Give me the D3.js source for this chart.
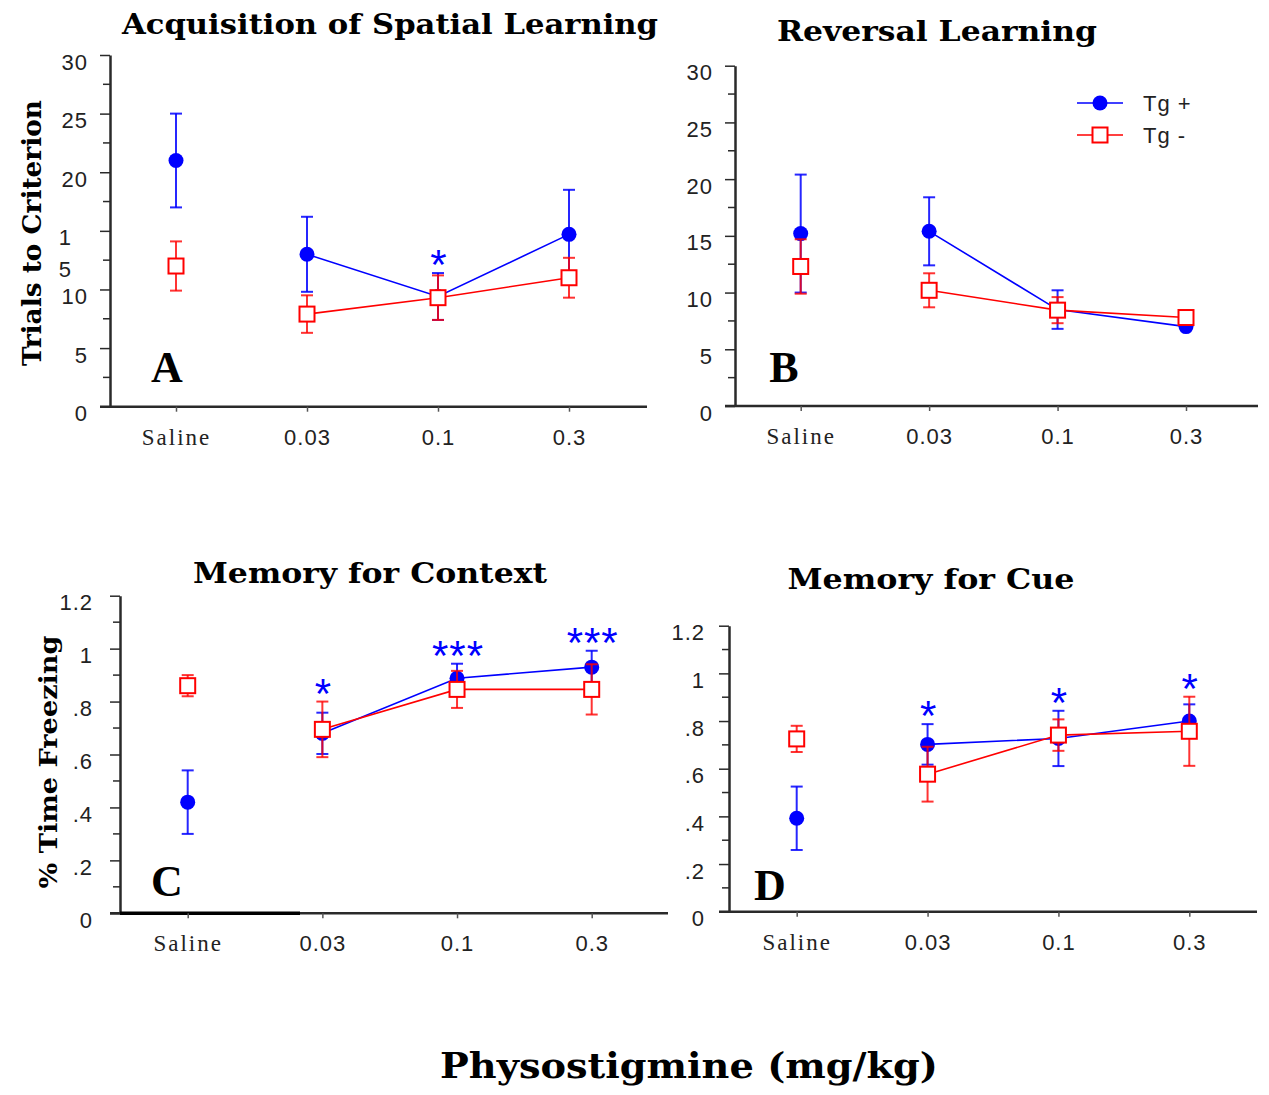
<!DOCTYPE html>
<html>
<head>
<meta charset="utf-8">
<script src="https://cdn.jsdelivr.net/npm/d3@7"></script>
<style>
  html, body { margin: 0; padding: 0; background: #fff; }
  svg { display: block; }
</style>
</head>
<body>
<svg id="chart" width="1269" height="1095"></svg>
<script>
// ---- data -------------------------------------------------------------
const categories = ["Saline", "0.03", "0.1", "0.3"];
const groups = ["Tg +", "Tg -"];

// A: acquisition of spatial learning (trials to criterion)
const acqTgPos    = [21.0, 13.0, 9.4, 14.7];
const acqTgPosErr = [4.0, 3.2, 2.0, 3.8];
const acqTgNeg    = [12.0, 7.9, 9.3, 11.0];
const acqTgNegErr = [2.1, 1.6, 1.9, 1.7];
const acqStars    = ["", "", "*", ""];

// B: reversal learning (trials to criterion)
const revTgPos    = [15.2, 15.4, 8.5, 7.0];
const revTgPosErr = [5.2, 3.0, 1.7, 0.3];
const revTgNeg    = [12.3, 10.2, 8.45, 7.8];
const revTgNegErr = [2.4, 1.5, 1.15, 0.3];
const revStars    = ["", "", "", ""];

// C: memory for context (% time freezing)
const ctxTgPos    = [0.42, 0.68, 0.888, 0.93];
const ctxTgPosErr = [0.12, 0.078, 0.055, 0.062];
const ctxTgNeg    = [0.86, 0.695, 0.846, 0.846];
const ctxTgNegErr = [0.04, 0.105, 0.07, 0.095];
const ctxStars    = ["", "*", "***", "***"];

// D: memory for cue (% time freezing)
const cueTgPos    = [0.392, 0.702, 0.727, 0.80];
const cueTgPosErr = [0.133, 0.085, 0.116, 0.07];
const cueTgNeg    = [0.725, 0.577, 0.741, 0.757];
const cueTgNegErr = [0.055, 0.115, 0.066, 0.145];
const cueStars    = ["", "*", "*", "*"];

// axis ticks
const trialTicks      = [0, 5, 10, 15, 20, 25, 30];
const trialTickLabels = ["0", "5", "10", "15", "20", "25", "30"];
const trialMinor      = [2.5, 7.5, 12.5, 17.5, 22.5, 27.5];
const freezeTicks      = [0, 0.2, 0.4, 0.6, 0.8, 1.0, 1.2];
const freezeTickLabels = ["0", ".2", ".4", ".6", ".8", "1", "1.2"];
const freezeMinor      = [0.1, 0.3, 0.5, 0.7, 0.9, 1.1];

const xTitle = "Physostigmine (mg/kg)";

// ---- layout -----------------------------------------------------------
const BLUE = "#0000ff", RED = "#ff0000", AXIS = "#2a2a2a";
const SERIF = "'Liberation Serif', 'Times New Roman', serif";
const HEAD = "'DejaVu Serif', 'Liberation Serif', serif";
const SANS = "'Liberation Sans', Arial, sans-serif";

const panels = [
  { letter: "A", title: "Acquisition of Spatial Learning", titleX: 390, titleY: 34, titleW: 536,
    axisX: 110, axisEnd: 647, catRange: [176, 569], yRange: [406.7, 55], domain: [0, 30],
    ticks: trialTicks, tickLabels: trialTickLabels, minor: trialMinor, labelGap: 22, splitFifteen: true,
    letterX: 167, letterY: 382,
    pos: acqTgPos, posErr: acqTgPosErr, neg: acqTgNeg, negErr: acqTgNegErr, stars: acqStars },
  { letter: "B", title: "Reversal Learning", titleX: 937, titleY: 41, titleW: 320,
    axisX: 735, axisEnd: 1258, catRange: [800.7, 1186], yRange: [406, 65.7], domain: [0, 30],
    ticks: trialTicks, tickLabels: trialTickLabels, minor: trialMinor, labelGap: 22,
    letterX: 784, letterY: 382, legend: true,
    pos: revTgPos, posErr: revTgPosErr, neg: revTgNeg, negErr: revTgNegErr, stars: revStars },
  { letter: "C", title: "Memory for Context", titleX: 370, titleY: 583, titleW: 354,
    axisX: 120, axisEnd: 668, catRange: [187.7, 591.7], yRange: [913.3, 595.7], domain: [0, 1.2],
    ticks: freezeTicks, tickLabels: freezeTickLabels, minor: freezeMinor, labelGap: 27, heavyBase: 300,
    letterX: 167, letterY: 896,
    pos: ctxTgPos, posErr: ctxTgPosErr, neg: ctxTgNeg, negErr: ctxTgNegErr, stars: ctxStars },
  { letter: "D", title: "Memory for Cue", titleX: 931, titleY: 589, titleW: 287,
    axisX: 729, axisEnd: 1257, catRange: [796.7, 1189.3], yRange: [911.7, 625.7], domain: [0, 1.2],
    ticks: freezeTicks, tickLabels: freezeTickLabels, minor: freezeMinor, labelGap: 24,
    letterX: 770, letterY: 900,
    pos: cueTgPos, posErr: cueTgPosErr, neg: cueTgNeg, negErr: cueTgNegErr, stars: cueStars }
];

const svg = d3.select("#chart");

function drawCircle(g, x, y) {
  g.append("circle").attr("cx", x).attr("cy", y).attr("r", 7.5).attr("fill", BLUE);
}
function drawSquare(g, x, y) {
  g.append("rect").attr("x", x - 7.5).attr("y", y - 7.5).attr("width", 15).attr("height", 15)
    .attr("fill", "#fff").attr("stroke", RED).attr("stroke-width", 2);
}

panels.forEach(p => {
  const g = svg.append("g");
  const x = d3.scalePoint().domain(categories).range(p.catRange);
  const y = d3.scaleLinear().domain(p.domain).range(p.yRange);

  // title
  g.append("text").attr("x", p.titleX).attr("y", p.titleY)
    .attr("text-anchor", "middle").attr("font-family", HEAD).attr("font-weight", "bold")
    .attr("font-size", 28).attr("textLength", p.titleW).attr("lengthAdjust", "spacingAndGlyphs")
    .text(p.title);

  // y axis with major ticks
  const yAxis = d3.axisLeft(y).tickValues(p.ticks).tickSize(10).tickSizeOuter(0)
    .tickPadding(p.labelGap - 10)
    .tickFormat((d, i) => p.tickLabels[i]);
  const ya = g.append("g").attr("transform", `translate(${p.axisX},0)`).call(yAxis);
  ya.select(".domain").attr("stroke", AXIS).attr("stroke-width", 2.5);
  ya.selectAll(".tick line").attr("stroke", AXIS).attr("stroke-width", 1.5);
  ya.selectAll(".tick text").attr("font-family", SANS).attr("font-size", 22)
    .attr("letter-spacing", "1px").attr("fill", "#222").attr("transform", "translate(0,7)");
  if (p.splitFifteen) {
    // the "15" label is printed as a stacked 1 over 5
    ya.selectAll(".tick text").filter(d => d === 15).each(function () {
      const t = d3.select(this).text(null);
      t.append("tspan").attr("x", -38).attr("dy", "0.32em").text("1");
      t.append("tspan").attr("x", -38).attr("dy", "1.45em").text("5");
    });
  }
  // minor ticks
  g.append("g").selectAll("line").data(p.minor).join("line")
    .attr("x1", p.axisX - 7).attr("x2", p.axisX)
    .attr("y1", d => y(d)).attr("y2", d => y(d))
    .attr("stroke", AXIS).attr("stroke-width", 1.5);

  // x axis
  const base = y(0);
  g.append("line").attr("x1", p.axisX - 10).attr("x2", p.axisEnd)
    .attr("y1", base).attr("y2", base).attr("stroke", AXIS).attr("stroke-width", 2.5);
  if (p.heavyBase) {
    g.append("line").attr("x1", p.axisX).attr("x2", p.heavyBase)
      .attr("y1", base).attr("y2", base).attr("stroke", "#000").attr("stroke-width", 3.5);
  }
  const xAxis = d3.axisBottom(x).tickSize(5).tickSizeOuter(0);
  const xa = g.append("g").attr("transform", `translate(0,${base})`).call(xAxis);
  xa.select(".domain").remove();
  xa.selectAll(".tick line").attr("stroke", "#555").attr("stroke-width", 1.5);
  xa.selectAll(".tick text").attr("y", 38).attr("dy", null).attr("fill", "#222")
    .attr("font-family", d => d === "Saline" ? SERIF : SANS)
    .attr("font-size", d => d === "Saline" ? 23 : 22)
    .attr("letter-spacing", d => d === "Saline" ? "2px" : "1px");

  // panel letter
  g.append("text").attr("x", p.letterX).attr("y", p.letterY).attr("text-anchor", "middle")
    .attr("font-family", SERIF).attr("font-weight", "bold").attr("font-size", 44)
    .text(p.letter);

  const series = [
    { name: groups[0], mean: p.pos, err: p.posErr, color: BLUE, marker: drawCircle, barOpacity: 0.85 },
    { name: groups[1], mean: p.neg, err: p.negErr, color: RED, marker: drawSquare, barOpacity: 0.8 }
  ];

  series.forEach(s => {
    const rows = categories.map((c, i) => ({ c, m: s.mean[i], e: s.err[i] }));
    // doses are joined by a line; saline stands alone
    const line = d3.line().x(d => x(d.c)).y(d => y(d.m));
    g.append("path").datum(rows.slice(1)).attr("d", line)
      .attr("fill", "none").attr("stroke", s.color).attr("stroke-width", 1.6);

    const eb = g.append("g").attr("stroke", s.color).attr("stroke-width", 2)
      .attr("stroke-opacity", s.barOpacity);
    rows.forEach(d => {
      const cx = x(d.c), top = y(d.m + d.e), bot = y(d.m - d.e);
      eb.append("line").attr("x1", cx).attr("x2", cx).attr("y1", top).attr("y2", bot);
      eb.append("line").attr("x1", cx - 6).attr("x2", cx + 6).attr("y1", top).attr("y2", top);
      eb.append("line").attr("x1", cx - 6).attr("x2", cx + 6).attr("y1", bot).attr("y2", bot);
    });
    rows.forEach(d => s.marker(g, x(d.c), y(d.m)));
  });

  // significance markers above the highest error bar
  categories.forEach((c, i) => {
    if (!p.stars[i]) return;
    const top = Math.max(p.pos[i] + p.posErr[i], p.neg[i] + p.negErr[i]);
    g.append("text").attr("x", x(c) + 1).attr("y", y(top) - 18 + 24)
      .attr("text-anchor", "middle").attr("font-family", SANS).attr("font-size", 42)
      .attr("letter-spacing", "1px").attr("fill", BLUE).text(p.stars[i]);
  });

  if (p.legend) {
    const lg = g.append("g");
    const items = [
      { name: groups[0], color: BLUE, marker: drawCircle, yy: 103 },
      { name: groups[1], color: RED, marker: drawSquare, yy: 135 }
    ];
    items.forEach(it => {
      lg.append("line").attr("x1", 1077).attr("x2", 1123).attr("y1", it.yy).attr("y2", it.yy)
        .attr("stroke", it.color).attr("stroke-width", 1.6);
      it.marker(lg, 1100, it.yy);
      lg.append("text").attr("x", 1143).attr("y", it.yy + 8).attr("font-family", SANS)
        .attr("font-size", 22).attr("letter-spacing", "1px").attr("fill", "#222").text(it.name);
    });
  }
});

// y-axis titles
svg.append("text").attr("transform", "translate(41,233) rotate(-90)").attr("text-anchor", "middle")
  .attr("font-family", HEAD).attr("font-weight", "bold").attr("font-size", 26)
  .attr("textLength", 266).attr("lengthAdjust", "spacingAndGlyphs").text("Trials to Criterion");
svg.append("text").attr("transform", "translate(57,762) rotate(-90)").attr("text-anchor", "middle")
  .attr("font-family", HEAD).attr("font-weight", "bold").attr("font-size", 25)
  .attr("textLength", 253).attr("lengthAdjust", "spacingAndGlyphs").text("% Time Freezing");

// shared x-axis title
svg.append("text").attr("x", 689).attr("y", 1078).attr("text-anchor", "middle")
  .attr("font-family", HEAD).attr("font-weight", "bold").attr("font-size", 36)
  .attr("textLength", 498).attr("lengthAdjust", "spacingAndGlyphs").text(xTitle);
</script>
</body>
</html>
